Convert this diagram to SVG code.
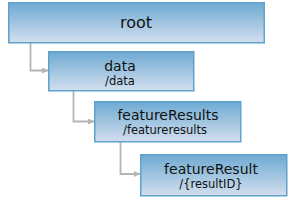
<svg xmlns="http://www.w3.org/2000/svg" width="308" height="200" viewBox="0 0 308 200">
<defs>
<linearGradient id="g" x1="0" y1="0" x2="0" y2="1">
<stop offset="0" stop-color="#6eaad2"/>
<stop offset="1" stop-color="#d3dfee"/>
</linearGradient>
<marker id="arr" viewBox="0 0 6 6" refX="6" refY="3" markerWidth="6" markerHeight="6" markerUnits="userSpaceOnUse" orient="auto">
<path d="M0,0 L6,3 L0,6 Z" fill="#b4b4b4"/>
</marker>
<style>
.box{fill:url(#g);stroke:#5fa3cd;stroke-width:1.5}
.main{font-family:"DejaVu Sans",Verdana,sans-serif;font-size:14px;fill:#111;text-anchor:middle}
.sub{font-family:"DejaVu Sans",Verdana,sans-serif;font-size:11.5px;fill:#111;text-anchor:middle}
.conn{fill:none;stroke:#b4b4b4;stroke-width:1.8;marker-end:url(#arr)}
</style>
</defs>
<rect width="308" height="200" fill="#fff"/>
<g id="connectors">
<path class="conn" d="M30.5,43 V70.5 H48"/>
<path class="conn" d="M73.5,91 V121.5 H94"/>
<path class="conn" d="M120.5,142 V174 H140"/>
</g>
<g id="root">
<rect class="box" x="8.75" y="2.75" width="255.5" height="40"/>
<text class="main" x="136" y="27.5" style="font-size:16px">root</text>
</g>
<g id="data">
<rect class="box" x="48.75" y="51.75" width="145" height="39"/>
<text class="main" x="120" y="70.5">data</text>
<text class="sub" x="120" y="84.5">/data</text>
</g>
<g id="featureResults">
<rect class="box" x="94.75" y="101.75" width="146" height="40"/>
<text class="main" x="168" y="120">featureResults</text>
<text class="sub" x="165" y="134">/featureresults</text>
</g>
<g id="featureResult">
<rect class="box" x="140.75" y="154.75" width="146" height="41"/>
<text class="main" x="211" y="173.5">featureResult</text>
<text class="sub" x="211" y="187.5">/{resultID}</text>
</g>
</svg>
